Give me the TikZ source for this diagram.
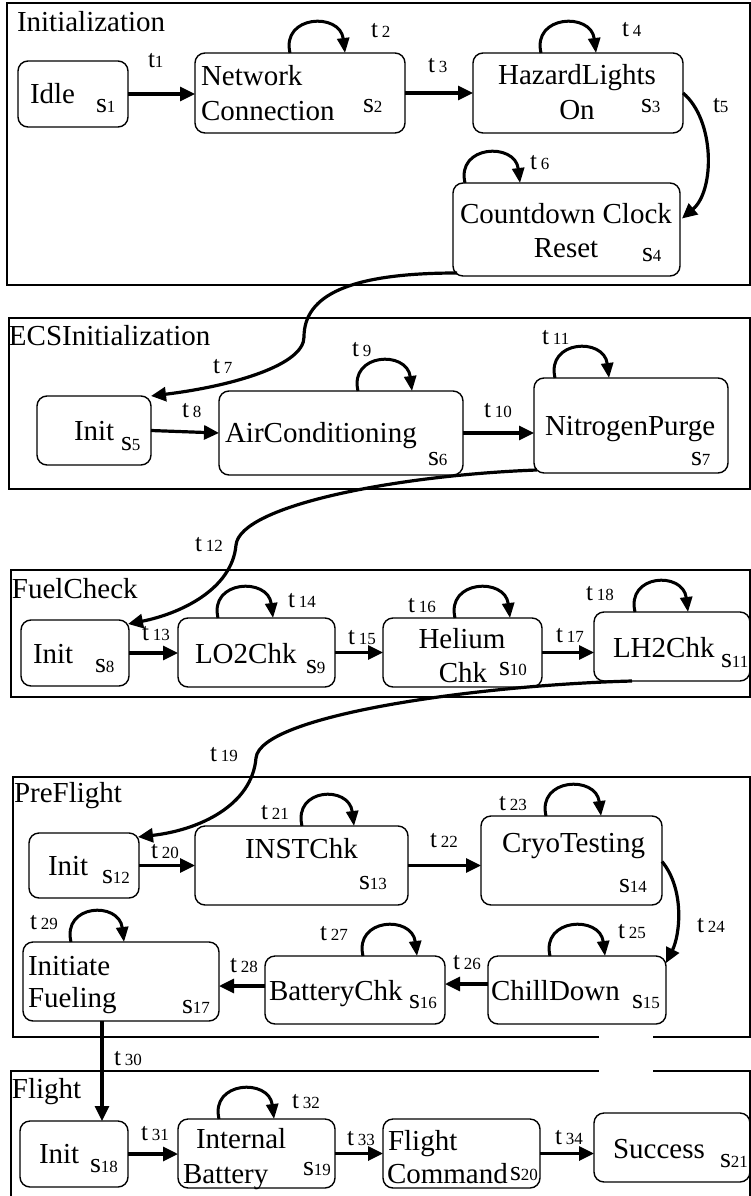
\documentclass[tikz,border=0pt]{standalone}
\usepackage{fontspec}
\setmainfont{Liberation Serif}
\usetikzlibrary{arrows.meta,calc}

% state index: "s" followed by a small number on the same baseline
\newcommand\slab[1]{{\fontsize{28}{28}\selectfont s}{\fontsize{17}{17}\selectfont #1}}
% transition labels, with and without the gap before the number
\newcommand\tlab[1]{{\fontsize{25}{25}\selectfont t}\hspace{4pt}{\fontsize{17}{17}\selectfont #1}}
\newcommand\tlabn[1]{{\fontsize{25}{25}\selectfont t}{\fontsize{17}{17}\selectfont #1}}

% box from its corners: style, name, x1, y1, x2, y2
\newcommand\mkbox[6]{%
  \pgfmathsetmacro\mkW{#5-#3}\pgfmathsetmacro\mkH{#6-#4}%
  \pgfmathsetmacro\mkX{(#3+#5)/2}\pgfmathsetmacro\mkY{(#4+#6)/2}%
  \node[#1, minimum width=\mkW pt, minimum height=\mkH pt] (#2) at (\mkX,\mkY) {};}

% self transition on the top side of a state
\newcommand\selfloop[3]{%
  \draw[loopline] ($(#1.north west)+(#2,0)$) .. controls +(-9,-38) and +(-5,-41) .. ($(#1.north west)+(#3,0)$);}

\begin{document}
\begin{tikzpicture}[x=1pt,y=-1pt,
  statebox/.style={draw, rectangle, rounded corners=10pt, line width=1.4pt, inner sep=0pt, outer sep=0pt},
  framebox/.style={draw, rectangle, line width=1.2pt, inner sep=0pt, outer sep=0pt},
  txt/.style={inner sep=0pt, outer sep=0pt, anchor=base west, font=\fontsize{29}{34}\selectfont},
  ctxt/.style={txt, anchor=base},
  title/.style={txt},
  idx/.style={inner sep=0pt, outer sep=0pt, anchor=base west},
  tr/.style={line width=3.2pt, -{Triangle[length=15pt,width=14pt]}},
  loopline/.style={line width=3pt, -{Triangle[length=15pt,width=12pt]}}
]
\useasboundingbox (0,0) rectangle (751,1196);

% ---------- composite states ----------
\mkbox{framebox}{f1}{7}{3}{750}{285}
\mkbox{framebox}{f2}{9}{318}{750}{489}
\mkbox{framebox}{f3}{11}{570}{750}{697}
\mkbox{framebox}{f4}{13}{777}{750}{1037}
\mkbox{framebox}{f5}{11}{1071}{750}{1215}
\fill[white] (599,1034) rectangle (653,1074);

\node[title] (tt1) at (17,32) {Initialization};
\node[title] (tt2) at (9,345) {ECSInitialization};
\node[title] (tt3) at (12,598) {FuelCheck};
\node[title] (tt4) at (14,802) {PreFlight};
\node[title] (tt5) at (12,1098) {Flight};

% ---------- states ----------
\mkbox{statebox}{s1}{18}{61}{128}{127}
\mkbox{statebox}{s2}{195}{53}{405}{133}
\mkbox{statebox}{s3}{473}{53}{683}{133}
\mkbox{statebox}{s4}{453}{183}{680}{276}
\mkbox{statebox}{s5}{37}{396}{151}{465}
\mkbox{statebox}{s6}{219}{391}{463}{475}
\mkbox{statebox}{s7}{534}{378}{728}{473}
\mkbox{statebox}{s8}{21}{620}{129}{686}
\mkbox{statebox}{s9}{178}{618}{335}{687}
\mkbox{statebox}{s10}{383}{618}{542}{687}
\mkbox{statebox}{s11}{594}{612}{750}{681}
\mkbox{statebox}{s12}{29}{833}{139}{898}
\mkbox{statebox}{s13}{195}{826}{408}{905}
\mkbox{statebox}{s14}{481}{816}{662}{905}
\mkbox{statebox}{s15}{488}{956}{666}{1024}
\mkbox{statebox}{s16}{265}{956}{445}{1024}
\mkbox{statebox}{s17}{23}{942}{219}{1021}
\mkbox{statebox}{s18}{20}{1121}{128}{1187}
\mkbox{statebox}{s19}{178}{1119}{335}{1188}
\mkbox{statebox}{s20}{383}{1119}{540}{1188}
\mkbox{statebox}{s21}{594}{1113}{750}{1182}

% ---------- state names ----------
\node[txt] (x1) at (30,104) {Idle};
\node[txt] (x2a) at (201,86) {Network};
\node[txt] (x2b) at (201,121) {Connection};
\node[ctxt] (x3a) at (577,85) {HazardLights};
\node[ctxt] (x3b) at (577,120) {On};
\node[txt] (x4a) at (460,223) {Countdown Clock};
\node[ctxt] (x4b) at (566,257) {Reset};
\node[txt] (x5) at (74,440) {Init};
\node[txt] (x6) at (225,442) {AirConditioning};
\node[txt] (x7) at (545,435) {NitrogenPurge};
\node[txt] (x8) at (33,663) {Init};
\node[txt] (x9) at (195,663) {LO2Chk};
\node[ctxt] (x10a) at (462,648) {Helium};
\node[ctxt] (x10b) at (463,682) {Chk};
\node[txt] (x11) at (613,657) {LH2Chk};
\node[txt] (x12) at (48,875) {Init};
\node[txt] (x13) at (245,858) {INSTChk};
\node[txt] (x14) at (502,852) {CryoTesting};
\node[txt] (x15) at (491,1000) {ChillDown};
\node[txt] (x16) at (269,1000) {BatteryChk};
\node[txt] (x17a) at (28,975) {Initiate};
\node[txt] (x17b) at (28,1007) {Fueling};
\node[txt] (x18) at (39,1163) {Init};
\node[txt] (x19a) at (196,1148) {Internal};
\node[txt] (x19b) at (183,1183) {Battery};
\node[txt] (x20a) at (388,1150) {Flight};
\node[txt] (x20b) at (387,1183) {Command};
\node[txt] (x21) at (613,1158) {Success};

% ---------- state indices ----------
\node[idx] (i1) at (96,113) {\slab{1}};
\node[idx] (i2) at (363,113) {\slab{2}};
\node[idx] (i3) at (641,113) {\slab{3}};
\node[idx] (i4) at (642,261) {\slab{4}};
\node[idx] (i5) at (121,450) {\slab{5}};
\node[idx] (i6) at (428,465) {\slab{6}};
\node[idx] (i7) at (691,465) {\slab{7}};
\node[idx] (i8) at (95,672) {\slab{8}};
\node[idx] (i9) at (306,673) {\slab{9}};
\node[idx] (i10) at (499,675) {\slab{10}};
\node[idx] (i11) at (721,667) {\slab{11}};
\node[idx] (i12) at (102,883) {\slab{12}};
\node[idx] (i13) at (359,889) {\slab{13}};
\node[idx] (i14) at (619,892) {\slab{14}};
\node[idx] (i15) at (632,1008) {\slab{15}};
\node[idx] (i16) at (409,1008) {\slab{16}};
\node[idx] (i17) at (182,1013) {\slab{17}};
\node[idx] (i18) at (90,1172) {\slab{18}};
\node[idx] (i19) at (303,1175) {\slab{19}};
\node[idx] (i20) at (510,1180) {\slab{20}};
\node[idx] (i21) at (720,1167) {\slab{21}};

% ---------- transition labels ----------
\node[idx] (t1) at (148,68) {\tlabn{1}};
\node[idx] (t2) at (371,38) {\tlab{2}};
\node[idx] (t3) at (428,73) {\tlab{3}};
\node[idx] (t4) at (622,37) {\tlab{4}};
\node[idx] (t5) at (713,113) {\tlabn{5}};
\node[idx] (t6) at (530,169) {\tlab{6}};
\node[idx] (t7) at (213,373) {\tlab{7}};
\node[idx] (t8) at (182,417) {\tlab{8}};
\node[idx] (t9) at (352,356) {\tlab{9}};
\node[idx] (t10) at (484,417) {\tlab{10}};
\node[idx] (t11) at (542,344) {\tlab{11}};
\node[idx] (t12) at (195,551) {\tlab{12}};
\node[idx] (t13) at (142,640) {\tlab{13}};
\node[idx] (t14) at (288,607) {\tlab{14}};
\node[idx] (t15) at (348,644) {\tlab{15}};
\node[idx] (t16) at (408,612) {\tlab{16}};
\node[idx] (t17) at (556,642) {\tlab{17}};
\node[idx] (t18) at (586,600) {\tlab{18}};
\node[idx] (t19) at (210,761) {\tlab{19}};
\node[idx] (t20) at (151,858) {\tlab{20}};
\node[idx] (t21) at (261,819) {\tlab{21}};
\node[idx] (t22) at (430,847) {\tlab{22}};
\node[idx] (t23) at (499,810) {\tlab{23}};
\node[idx] (t24) at (697,932) {\tlab{24}};
\node[idx] (t25) at (618,938) {\tlab{25}};
\node[idx] (t26) at (453,969) {\tlab{26}};
\node[idx] (t27) at (320,940) {\tlab{27}};
\node[idx] (t28) at (230,972) {\tlab{28}};
\node[idx] (t29) at (30,929) {\tlab{29}};
\node[idx] (t30) at (114,1065) {\tlab{30}};
\node[idx] (t31) at (141,1140) {\tlab{31}};
\node[idx] (t32) at (292,1108) {\tlab{32}};
\node[idx] (t33) at (347,1145) {\tlab{33}};
\node[idx] (t34) at (555,1144) {\tlab{34}};

% ---------- self transitions ----------
\selfloop{s2}{95}{150}
\selfloop{s3}{68}{123}
\selfloop{s4}{12}{67}
\selfloop{s6}{139}{193}
\selfloop{s7}{21}{75}
\selfloop{s9}{40}{95}
\selfloop{s10}{72}{127}
\selfloop{s11}{41}{94}
\selfloop{s13}{107}{159}
\selfloop{s14}{65}{120}
\selfloop{s15}{62}{117}
\selfloop{s16}{98}{152}
\selfloop{s17}{48}{101}
\selfloop{s19}{41}{96}

% ---------- straight transitions ----------
\draw[tr] (s1.east) -- (s1.east -| s2.west);
\draw[tr] (s2.east) -- (s2.east -| s3.west);
\draw[tr] (s5.east) -- (s6.west);
\draw[tr] (s6.east) -- (s6.east -| s7.west);
\draw[tr] (s8.east) -- (s8.east -| s9.west);
\draw[tr] (s9.east) -- (s9.east -| s10.west);
\draw[tr] (s10.east) -- (s10.east -| s11.west);
\draw[tr] (s12.east) -- (s12.east -| s13.west);
\draw[tr] (s13.east) -- (s13.east -| s14.west);
\coordinate (a26) at ($(s15.west)+(0,-6)$);
\draw[tr] (a26) -- (a26 -| s16.east);
\coordinate (a28) at ($(s16.west)+(0,-4)$);
\draw[tr] (a28) -- (a28 -| s17.east);
\coordinate (a30) at ($(s17.south west)+(79,0)$);
\draw[tr] (a30) -- (a30 |- s18.north);
\draw[tr] (s18.east) -- (s18.east -| s19.west);
\draw[tr] (s19.east) -- (s19.east -| s20.west);
\draw[tr] (s20.east) -- (s20.east -| s21.west);

% ---------- curved transitions ----------
\draw[tr] (s3.east) .. controls +(32,27) and +(33,-28) .. ($(s4.east)+(2,-11)$);
\draw[tr] ($(s14.east)+(0,1)$) .. controls +(23,28) and +(14,-28) .. ($(s15.north east)+(0,7)$);

\coordinate (w7) at (304,337);
\draw[tr] ($(s4.south west)+(4,-3)$) .. controls +(-107,0) and +(0,-42) .. (w7)
  .. controls +(0,28) and +(82,-10) .. (s5.north east);

\coordinate (w12) at (236,545);
\draw[tr] ($(s7.south west)+(3,-3)$) .. controls +(-137,5) and +(4,-40) .. (w12)
  .. controls +(-4,45) and +(51,-10) .. ($(s8.north east)+(-1,4)$);

\coordinate (w19) at (256,758);
\draw[tr] ($(s11.south west)+(38,0)$) .. controls +(-152,4) and +(4,-43) .. (w19)
  .. controls +(-4,47) and +(62,-7) .. ($(s12.north east)+(-1,4)$);
\end{tikzpicture}
\end{document}
